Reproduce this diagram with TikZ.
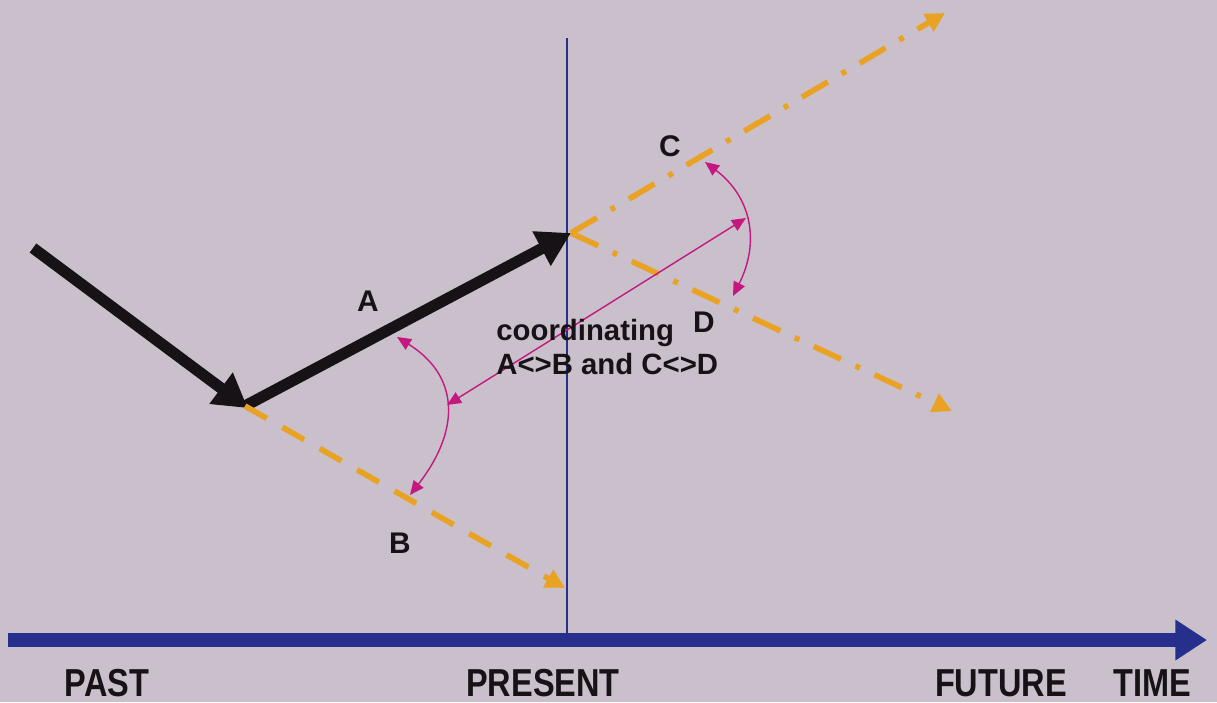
\documentclass[tikz,border=0pt]{standalone}
\usepackage{fontspec}
\setmainfont{Liberation Sans}
\usepackage{tikz}
\usetikzlibrary{arrows.meta, calc}
\definecolor{TEMPaper}{RGB}{202,192,204}
\definecolor{TEMNavy}{RGB}{38,48,140}
\definecolor{TEMOrange}{RGB}{234,162,36}
\definecolor{TEMMagenta}{RGB}{196,24,128}
\definecolor{TEMInk}{RGB}{22,18,22}

\begin{document}
\begin{tikzpicture}[x=0.02cm, y=-0.02cm,
          lbl/.style={font=\bfseries\fontsize{17}{20}\selectfont, text=TEMInk},
          axlbl/.style={font=\bfseries\fontsize{18.5}{22}\selectfont, text=TEMInk},
          path/.style={line width=6.4pt, TEMInk,
                       -{Triangle[length=19pt, width=21pt]}},
          maybe/.style={line width=3.2pt, TEMOrange,
                        -{Triangle[length=11pt, width=11pt]}},
          past/.style={maybe, dash pattern=on 0.5cm off 0.36cm},
          future/.style={maybe, dash pattern=on 0.6cm off 0.32cm on 0.1cm off 0.32cm},
          coord/.style={TEMMagenta, line width=0.8pt,
                        {Triangle[length=8pt, width=7pt]}-{Triangle[length=8pt, width=7pt]}}
        ]
        % Page
        \fill[TEMPaper] (0,0) rectangle (1217,702);
        % Time axis
        \coordinate (t0) at (8,640);
        \coordinate (t1) at (1207,640);
        \draw[TEMNavy, line width=8pt, -{Triangle[length=18pt, width=22pt]}] (t0)--(t1);
        \coordinate (ptop) at (567,38);
        \coordinate (pbot) at (567,633);
        \draw[TEMNavy, line width=0.9pt] (ptop)--(pbot);
        % Trajectory so far
        \coordinate (start) at (33,248);
        \coordinate (bif)   at (245,406);
        \coordinate (now)   at (571,233);
        \draw[path, shorten >=-2pt] (start)--(bif);
        \draw[path] (bif)--(now);
        % Could-have-been
        \coordinate (bend) at (565,588);
        \draw[past] (bif)--(bend);
        % Possible futures
        \coordinate (up)   at (945,13);
        \coordinate (down) at (952,411);
        \draw[future] (now)--(up);
        \draw[future] (now)--(down);
        % Coordinating arcs
        \coordinate (a1) at (397,337);
        \coordinate (a2) at (410,495);
        \coordinate (am) at (447,405);
        \coordinate (c1) at (705,162);
        \coordinate (c2) at (733,296);
        \coordinate (cm) at (746,218);
        \draw[coord] (a1) .. controls (458,375) and (462,428) .. (a2);
        \draw[coord] (c1) .. controls (750,196) and (761,240) .. (c2);
        \draw[coord] (am)--(cm);
        % Labels
        \node[lbl] (la) at (368,301) {A};
        \node[lbl] (lb) at (400,543) {B};
        \node[lbl] (lc) at (670,146) {C};
        \node[lbl] (ld) at (704,322) {D};
        \node[font=\bfseries\fontsize{16.7}{18.8}\selectfont, text=TEMInk,
              align=left, anchor=west, inner sep=0pt] (coordtxt) at (496,347)
              {coordinating\\A<>B and C<>D};
        \node[axlbl] (lpast) at (107,683) {\scalebox{1}[1.2]{PAST}};
        \node[axlbl] (lpres) at (543,683) {\scalebox{1}[1.2]{PRESENT}};
        \node[axlbl] (lfut)  at (1001,683) {\scalebox{1}[1.2]{FUTURE}};
        \node[axlbl] (ltime) at (1152,683) {\scalebox{1}[1.2]{TIME}};
      \end{tikzpicture}
\end{document}
